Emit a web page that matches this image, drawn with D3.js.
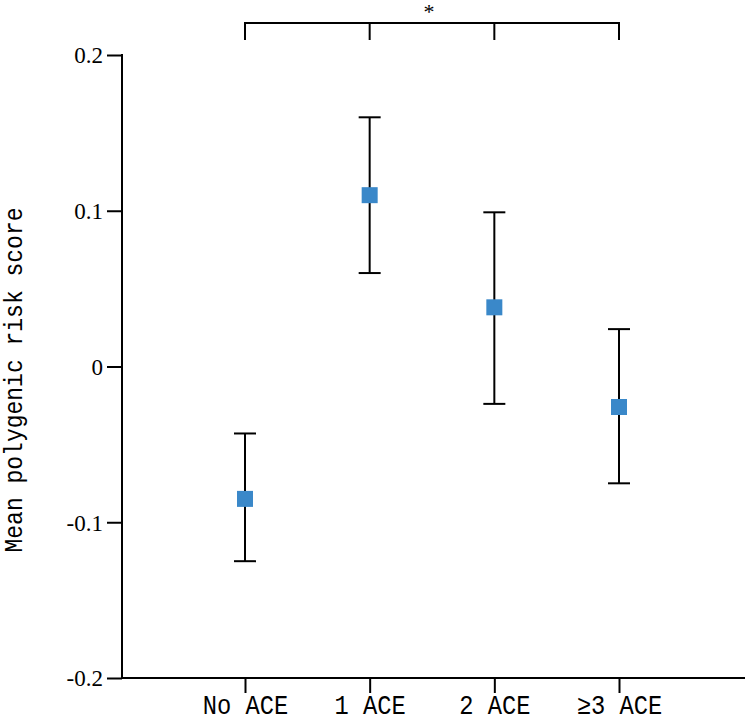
<!DOCTYPE html>
<html>
<head>
<meta charset="utf-8">
<script src="https://cdn.jsdelivr.net/npm/d3@7"></script>
<style>
  body { margin: 0; background: #fff; }
  text { fill: #000; }
</style>
</head>
<body>
<script>
let width = 746,
  height = 721,
  axisLeft = 122,
  axisRight = 745,
  yTop = 55,
  yBottom = 678,
  mono = "'Liberation Mono', 'Courier New', monospace",
  serif = "'Liberation Serif', 'Times New Roman', serif"

let categories = ['No ACE', '1 ACE', '2 ACE', '\u22653 ACE']
let means = [-0.085, 0.110, 0.038, -0.026]
let lower = [-0.125, 0.060, -0.024, -0.075]
let upper = [-0.043, 0.160, 0.099, 0.024]
let yTicks = [0.2, 0.1, 0, -0.1, -0.2]
let yTickLabels = ['0.2', '0.1', '0', '-0.1', '-0.2']

let svg = d3.select('body').append('svg')
  .attr('width', width)
  .attr('height', height)

let scaleX = d3.scalePoint()
  .domain(categories)
  .range([245, 619])

let scaleY = d3.scaleLinear()
  .domain([-0.2, 0.2])
  .range([yBottom, yTop])

// y axis
let axisY = d3.axisLeft(scaleY)
  .tickValues(yTicks)
  .tickSize(15)
  .tickPadding(4)
  .tickFormat((d, i) => yTickLabels[i])

let gy = svg.append('g')
  .attr('transform', 'translate(' + axisLeft + ',0)')
  .call(axisY)
gy.select('.domain').remove()
gy.selectAll('line').attr('stroke', '#000').attr('stroke-width', 2)
gy.selectAll('text')
  .style('font-family', serif)
  .style('font-size', '23px')
  .attr('dy', '0.34em')

svg.append('line')
  .attr('x1', axisLeft).attr('x2', axisLeft)
  .attr('y1', yTop - 1).attr('y2', yBottom + 1)
  .attr('stroke', '#000').attr('stroke-width', 2)

// x axis
let axisX = d3.axisBottom(scaleX)
  .tickSize(15)

let gx = svg.append('g')
  .attr('transform', 'translate(0,' + yBottom + ')')
  .call(axisX)
gx.select('.domain').remove()
gx.selectAll('line').attr('stroke', '#000').attr('stroke-width', 2)
gx.selectAll('text')
  .style('font-family', mono)
  .style('font-size', '27px')
  .attr('y', 36)
  .attr('dy', 0)
  .attr('transform', 'scale(0.88,1)')

svg.append('line')
  .attr('x1', axisLeft).attr('x2', axisRight)
  .attr('y1', yBottom).attr('y2', yBottom)
  .attr('stroke', '#000').attr('stroke-width', 2)

// y title
svg.append('text')
  .attr('transform', 'translate(22,380) rotate(-90) scale(0.92,1)')
  .attr('text-anchor', 'middle')
  .style('font-family', mono)
  .style('font-size', '25px')
  .text('Mean polygenic risk score')

// error bars
let bars = svg.selectAll('.err')
  .data(categories)
  .enter()
  .append('g')
  .attr('class', 'err')

bars.append('line')
  .attr('x1', d => scaleX(d)).attr('x2', d => scaleX(d))
  .attr('y1', (d, i) => scaleY(upper[i])).attr('y2', (d, i) => scaleY(lower[i]))
  .attr('stroke', '#000').attr('stroke-width', 2)

bars.append('line')
  .attr('x1', d => scaleX(d) - 11).attr('x2', d => scaleX(d) + 11)
  .attr('y1', (d, i) => scaleY(upper[i])).attr('y2', (d, i) => scaleY(upper[i]))
  .attr('stroke', '#000').attr('stroke-width', 2)

bars.append('line')
  .attr('x1', d => scaleX(d) - 11).attr('x2', d => scaleX(d) + 11)
  .attr('y1', (d, i) => scaleY(lower[i])).attr('y2', (d, i) => scaleY(lower[i]))
  .attr('stroke', '#000').attr('stroke-width', 2)

bars.append('rect')
  .attr('x', d => scaleX(d) - 8)
  .attr('y', (d, i) => scaleY(means[i]) - 8)
  .attr('width', 16)
  .attr('height', 16)
  .attr('fill', '#3a88c9')

// significance bracket
let bracketY = 23
svg.append('line')
  .attr('x1', scaleX(categories[0]) - 1).attr('x2', scaleX(categories[3]) + 1)
  .attr('y1', bracketY).attr('y2', bracketY)
  .attr('stroke', '#000').attr('stroke-width', 2)

svg.selectAll('.btick')
  .data(categories)
  .enter()
  .append('line')
  .attr('class', 'btick')
  .attr('x1', d => scaleX(d)).attr('x2', d => scaleX(d))
  .attr('y1', bracketY - 1).attr('y2', bracketY + 17)
  .attr('stroke', '#000').attr('stroke-width', 2)

svg.append('text')
  .attr('x', 429)
  .attr('y', 19)
  .attr('text-anchor', 'middle')
  .style('font-family', serif)
  .style('font-size', '22px')
  .text('*')
</script>
</body>
</html>
